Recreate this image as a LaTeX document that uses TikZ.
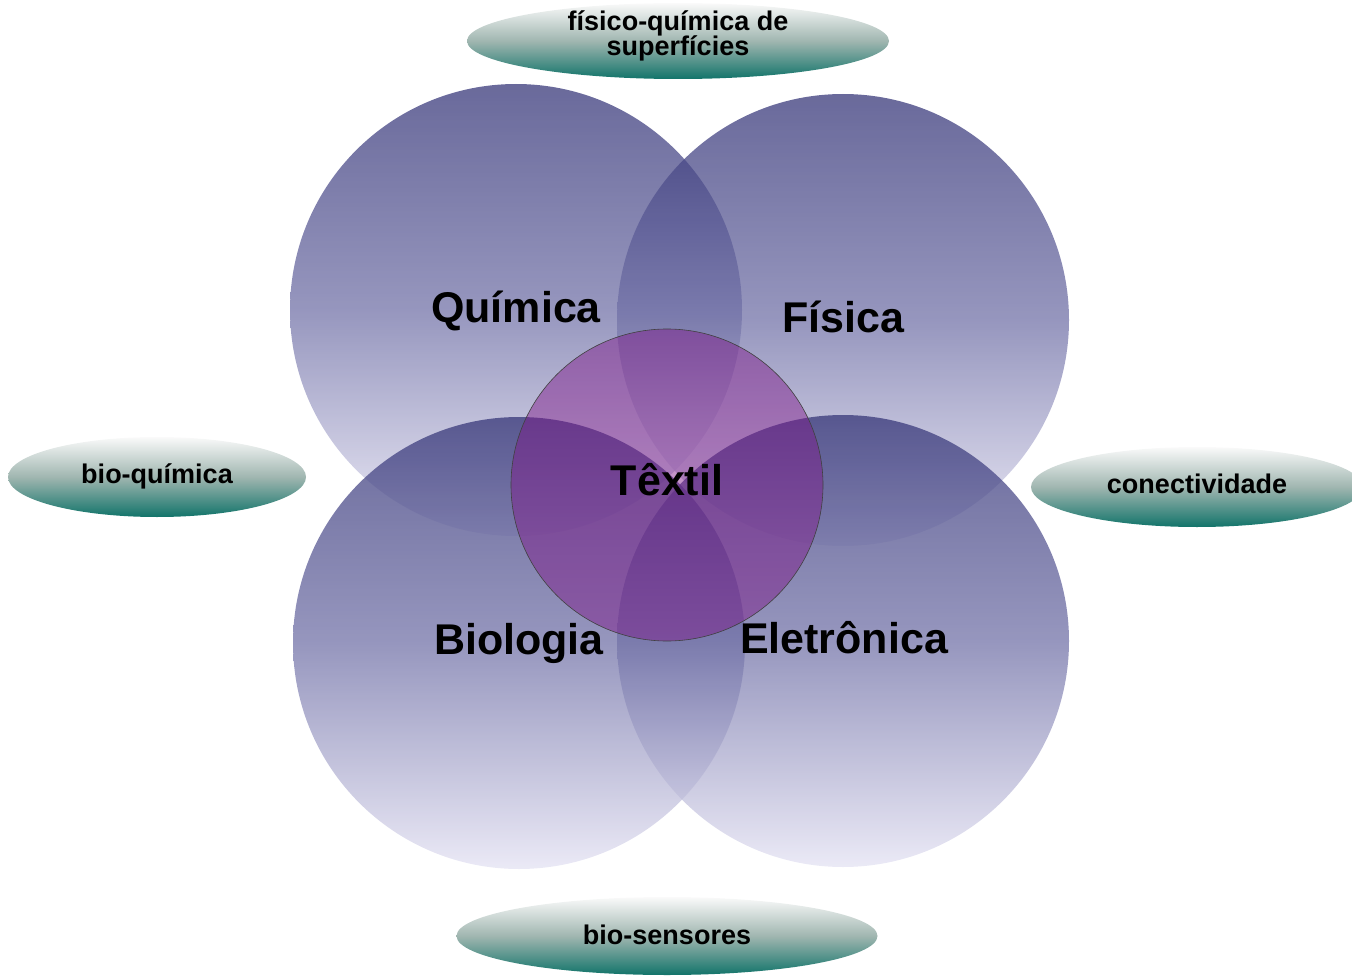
\documentclass[tikz,border=0pt]{standalone}
\usepackage{fontspec}
\setmainfont{Liberation Sans}
\usetikzlibrary{shapes.geometric}
\definecolor{ballTop}{RGB}{55,55,121}
\definecolor{ballMid}{RGB}{115,115,168}
\definecolor{ballBot}{RGB}{228,226,243}
\definecolor{ovTop}{RGB}{250,250,250}
\definecolor{ovMid}{RGB}{160,182,176}
\definecolor{ovBot}{RGB}{18,116,106}
\definecolor{textilFill}{RGB}{125,20,135}
\begin{document}
\begin{tikzpicture}[x=1pt,y=-1pt,
  ball/.style={circle, minimum size=452pt, inner sep=0pt, draw=none,
    top color=ballTop, bottom color=ballBot, middle color=ballMid,
    fill opacity=0.75, text opacity=1},
  centerball/.style={circle, minimum size=312pt, inner sep=0pt,
    fill=textilFill, fill opacity=0.45, draw=black!75, line width=0.6pt, text opacity=1},
  biglabel/.style={anchor=base, font=\bfseries\fontsize{43}{46}\selectfont, text=black, inner sep=0pt},
  oval/.style={ellipse, inner sep=0pt, draw=none, top color=ovTop, bottom color=ovBot,
    middle color=ovMid},
  ovallabel/.style={anchor=base, font=\bfseries\fontsize{27}{25}\selectfont, text=black, inner sep=0pt}
]
\useasboundingbox (0,0) rectangle (1352,976);

% outer ovals
\node[oval, minimum width=422pt, minimum height=76pt] (fq) at (678,41) {};
\node[oval, minimum width=298pt, minimum height=80pt] (bq) at (157,477) {};
\node[oval, minimum width=332pt, minimum height=80pt] (cn) at (1197,487) {};
\node[oval, minimum width=421pt, minimum height=78pt] (bs) at (667,936) {};
\node[ovallabel] (lfq1) at (678,31) {físico-química de};
\node[ovallabel] (lfq2) at (678,56) {superfícies};
\node[ovallabel] (lbq) at (157,483) {bio-química};
\node[ovallabel] (lcn) at (1197,493) {conectividade};
\node[ovallabel] (lbs) at (667,944) {bio-sensores};

% four discipline circles
\node[ball] (quim) at (516,310) {};
\node[ball] (fis) at (843,320) {};
\node[ball] (bio) at (519,643) {};
\node[ball] (ele) at (843,641) {};

% central circle
\node[centerball] (tex) at (667,485) {};

% labels
\node[biglabel] (lquim) at (516,323) {Química};
\node[biglabel] (lfis) at (843,332) {Física};
\node[biglabel] (lbio) at (519,654) {Biologia};
\node[biglabel] (lele) at (844,653) {Eletrônica};
\node[biglabel] (ltex) at (667,495) {Têxtil};
\end{tikzpicture}
\end{document}
